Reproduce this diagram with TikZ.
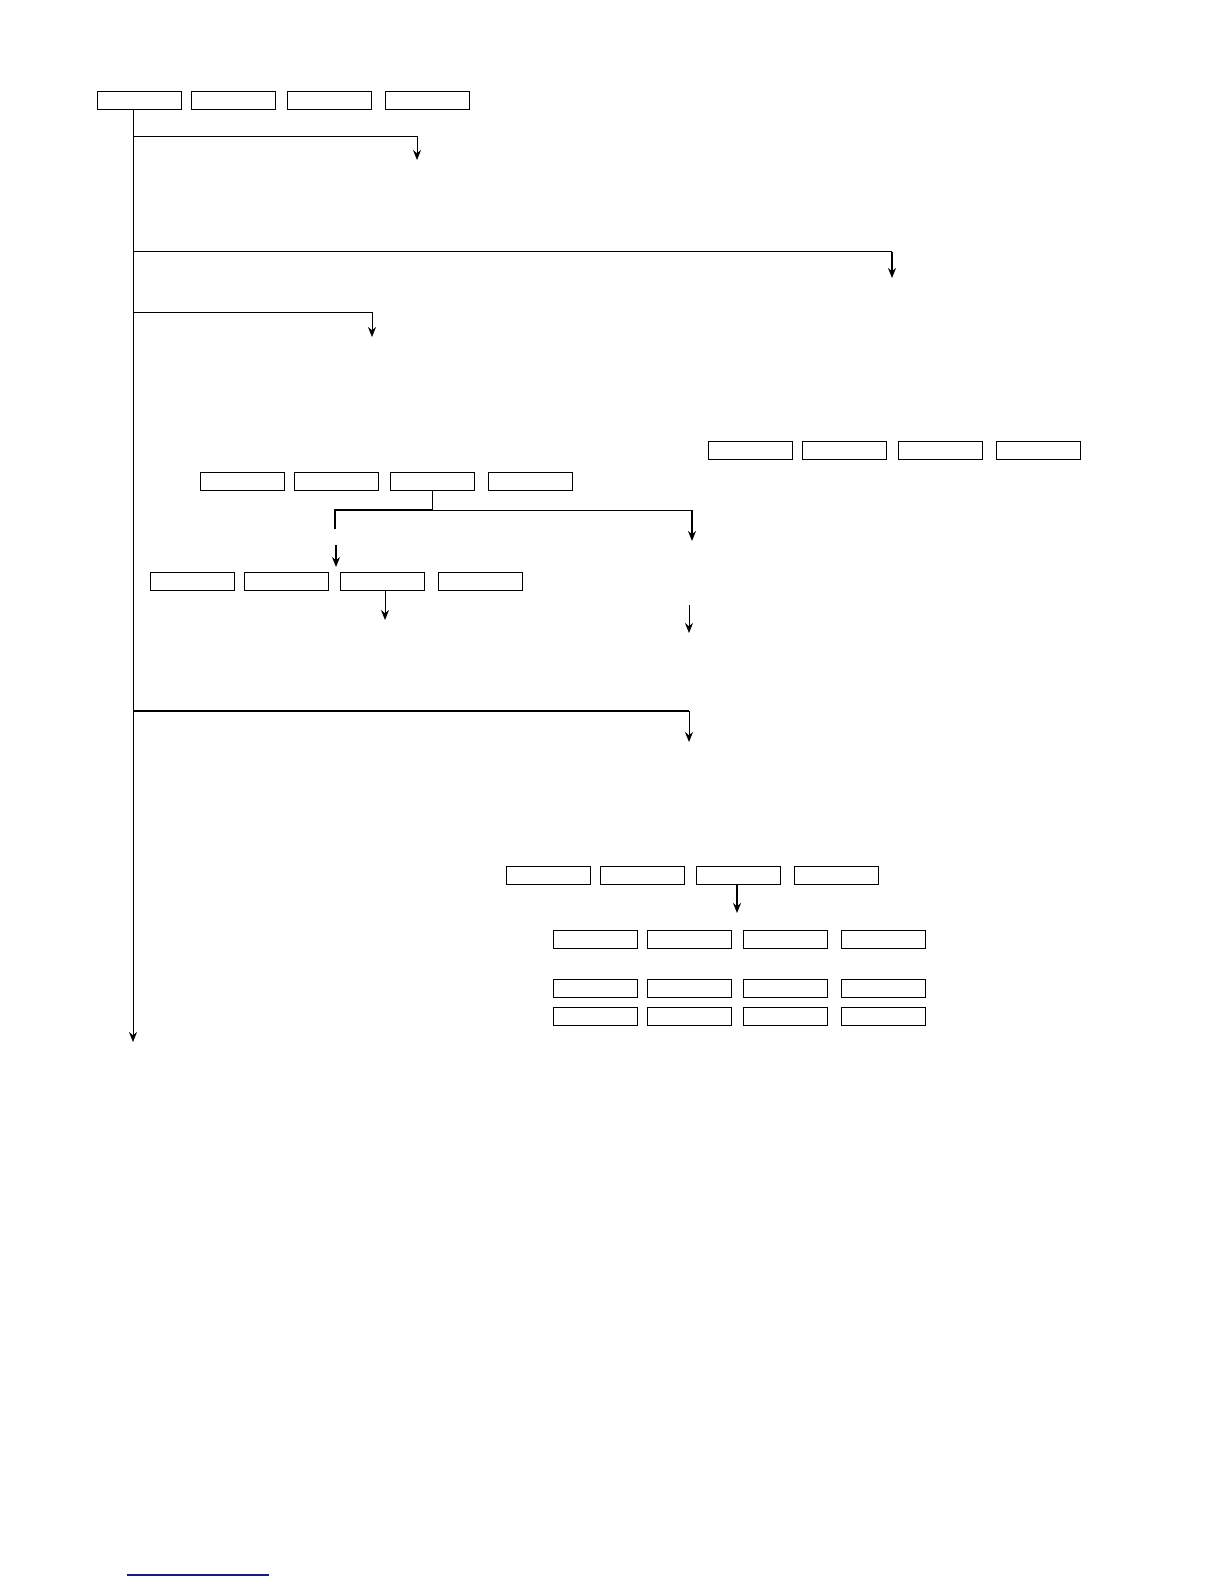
\documentclass[tikz,border=0pt]{standalone}
\usepackage{tikz}
\usetikzlibrary{arrows.meta}
\definecolor{linkblue}{RGB}{25,25,140}
\tikzset{
	blk/.style={draw,line width=0.6pt,minimum width=42pt,minimum height=9.2pt,inner sep=0pt,outer sep=0pt},
	>={Stealth[length=5pt,width=4pt]}
}
% four boxes in a row: name, left edge, top edge (pixels)
\newcommand{\boxrow}[3]{%
	\node[blk] (#1a) at (#2+42.5,#3+9.5) {};
	\node[blk] (#1b) at (#2+136.5,#3+9.5) {};
	\node[blk] (#1c) at (#2+232.5,#3+9.5) {};
	\node[blk] (#1d) at (#2+330.5,#3+9.5) {};
}

\begin{document}
\begin{tikzpicture}[x=0.5pt,y=-0.5pt,line width=0.5pt]
			\useasboundingbox (0,0) rectangle (1224,1584);
			\boxrow{top}{97}{91}
			\boxrow{side}{708}{441}
			\boxrow{mid}{200}{472}
			\boxrow{low}{150}{572}
			\boxrow{ra}{506}{866}
			\boxrow{rb}{553}{930}
			\boxrow{rc}{553}{979}
			\boxrow{rd}{553}{1007}
			\coordinate (spine) at (133,1042);
			\draw[->] (topa.south -| spine) -- (spine);
			\coordinate (j1) at (133,137);
			\coordinate (e1) at (417,160);
			\draw[->] (j1) -| (e1);
			\coordinate (j2) at (133,251.5);
			\coordinate (e2) at (892,278);
			\draw (j2) -- (j2 -| e2);
			\draw[thick,->] (j2 -| e2) -- (e2);
			\coordinate (j3) at (133,312);
			\coordinate (e3) at (372,337);
			\draw[->] (j3) -| (e3);
			\coordinate (fork) at (432.5,510);
			\coordinate (stub) at (335,529);
			\coordinate (e5) at (692,541);
			\draw (midc.south) -- (fork);
			\draw[thick] (fork) -| (stub);
			\draw (fork) -- (fork -| e5);
			\draw[thick,->] (fork -| e5) -- (e5);
			\coordinate (s6) at (336,545);
			\coordinate (e6) at (336,567);
			\draw[thick,->] (s6) -- (e6);
			\coordinate (e7) at (385,620);
			\draw[->] (lowc.south -| e7) -- (e7);
			\coordinate (s8) at (689,605);
			\coordinate (e8) at (689,633);
			\draw[->] (s8) -- (e8);
			\coordinate (j4) at (133,711);
			\coordinate (e4) at (689,742);
			\draw[thick] (j4) -- (j4 -| e4);
			\draw[->] (j4 -| e4) -- (e4);
			\coordinate (e9) at (737,913);
			\draw[thick,->] (rac.south -| e9) -- (e9);
			\draw[linkblue,line width=0.7pt] (127,1575) -- (269,1575);
		\end{tikzpicture}
\end{document}
